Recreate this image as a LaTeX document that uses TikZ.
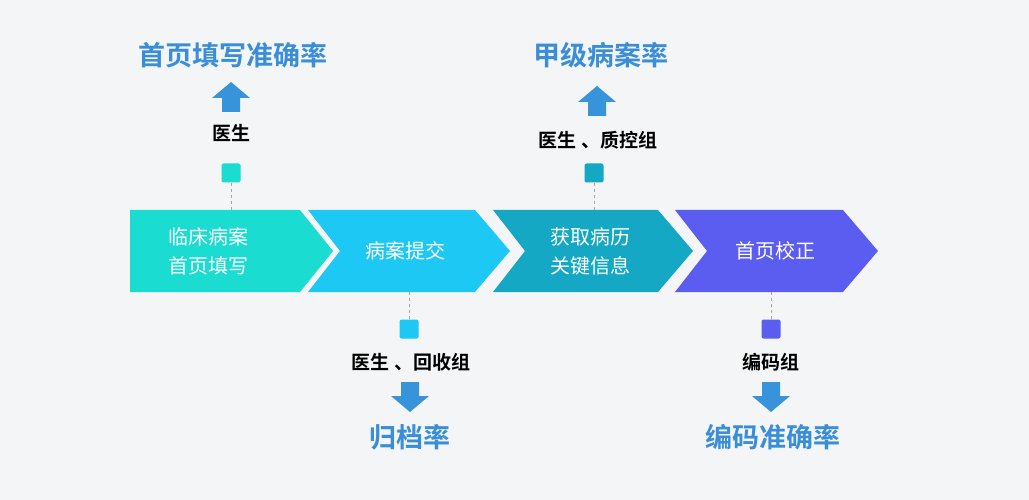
\documentclass[tikz,border=0pt]{standalone}
\usepackage{fontspec}
\setmainfont{Noto Sans CJK SC}
\newfontfamily\cjkb{Noto Sans CJK SC Bold}
\definecolor{cA}{HTML}{1ADCD0}
\definecolor{cB}{HTML}{1EC8F5}
\definecolor{cC}{HTML}{14A8C4}
\definecolor{cD}{HTML}{5B5CF0}
\definecolor{ttl}{HTML}{3A8ED8}
\definecolor{bg}{HTML}{F4F5F6}
\begin{document}
\begin{tikzpicture}[x=1pt,y=-1pt,
  ctext/.style={text=white,font=\fontsize{20}{29}\selectfont,align=center},
  sq/.style={minimum size=19pt,inner sep=0pt,rounded corners=2pt},
  lbl/.style={font=\cjkb\fontsize{19}{22}\selectfont},
  ttlt/.style={text=ttl,font=\cjkb\fontsize{27}{31}\selectfont},
  dl/.style={dashed,gray!70,line width=0.8pt}]
\fill[bg] (0,0) rectangle (1029,500);
\useasboundingbox (0,0) rectangle (1029,500);
% chevrons
\fill[cA] (130,210) -- (300,210) -- (333,251) -- (300,292) -- (130,292) -- cycle;
\fill[cB] (308,210) -- (475,210) -- (510,251) -- (475,292) -- (308,292) -- (340,251) -- cycle;
\fill[cC] (493,210) -- (658,210) -- (693,251) -- (658,292) -- (493,292) -- (525,251) -- cycle;
\fill[cD] (675,210) -- (843,210) -- (878,251) -- (843,292) -- (675,292) -- (707,251) -- cycle;
\node[ctext] (s1) at (208,251) {临床病案\\首页填写};
\node[ctext] (s2) at (405,251) {病案提交};
\node[ctext] (s3) at (590,251) {获取病历\\关键信息};
\node[ctext] (s4) at (775,251) {首页校正};
% squares
\node[sq,fill=cA] (q1) at (231,173) {};
\node[sq,fill=cB] (q2) at (409,329) {};
\node[sq,fill=cC] (q3) at (594,173) {};
\node[sq,fill=cD] (q4) at (771,329) {};
\coordinate (t1) at (231,210); \coordinate (t2) at (409,292);
\coordinate (t3) at (594,210); \coordinate (t4) at (771,292);
\draw[dl] (q1) -- (t1); \draw[dl] (q2) -- (t2);
\draw[dl] (q3) -- (t3); \draw[dl] (q4) -- (t4);
% labels
\node[lbl] (l1) at (231,133) {医生};
\node[lbl] (l3) at (598,140) {医生 、质控组};
\node[lbl] (l2) at (411,362) {医生 、回收组};
\node[lbl] (l4) at (771,362) {编码组};
% block arrows
\def\uparr#1#2{\fill[ttl!90!cB] (#1-19,#2) -- (#1,#2-16) -- (#1+19,#2) -- (#1+9,#2) -- (#1+9,#2+14) -- (#1-9,#2+14) -- (#1-9,#2) -- cycle;}
\def\dnarr#1#2{\fill[ttl!90!cB] (#1-19,#2) -- (#1,#2+16) -- (#1+19,#2) -- (#1+9,#2) -- (#1+9,#2-14) -- (#1-9,#2-14) -- (#1-9,#2) -- cycle;}
\uparr{231}{98}
\uparr{597}{102}
\dnarr{410}{396}
\dnarr{771}{396}
\node[ttlt] (T1) at (233,55) {首页填写准确率};
\node[ttlt] (T3) at (601,55) {甲级病案率};
\node[ttlt] (T2) at (410,437) {归档率};
\node[ttlt] (T4) at (773,437) {编码准确率};
\end{tikzpicture}
\end{document}
